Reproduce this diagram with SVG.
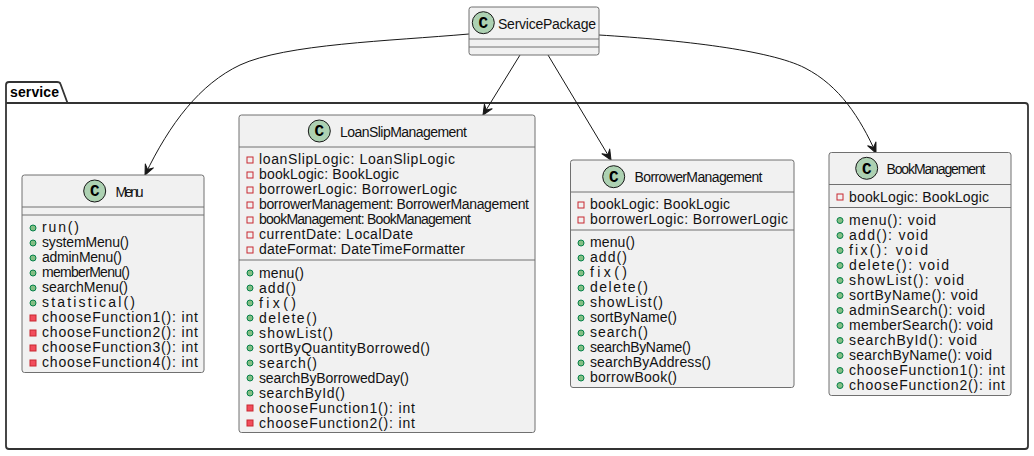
<svg xmlns="http://www.w3.org/2000/svg" width="1034" height="456" viewBox="0 0 1034 456">
<style>
text{font-family:"Liberation Sans",Arial,sans-serif;font-size:14px;fill:#111;}
.b{fill:#F1F1F1;stroke:#707070;stroke-width:1}
.s{stroke:#707070;stroke-width:1;fill:none}
.c{fill:#ADD1B2;stroke:#181818;stroke-width:1}
.g{font-family:"Liberation Mono",monospace;font-weight:bold;font-size:16px;fill:#000;text-anchor:middle}
.e{fill:none;stroke:#181818;stroke-width:1}
.pu{fill:#84BE84;stroke:#038048;stroke-width:1}
.pm{fill:#F24D5C;stroke:#C82930;stroke-width:1}
.pf{fill:#F1F1F1;stroke:#C82930;stroke-width:1}
</style>
<defs>
<marker id="a" markerUnits="userSpaceOnUse" markerWidth="16" markerHeight="14" refX="12" refY="6" orient="auto"><path d="M12,6 L2,1.5 L6,6 L2,10.5 Z" fill="#181818" stroke="#181818" stroke-width="1" stroke-linejoin="round"/></marker>
<circle id="pu" class="pu" r="3"/>
<rect id="pm" class="pm" x="-3" y="-3" width="6" height="6"/>
<rect id="pf" class="pf" x="-3" y="-3" width="6" height="6"/>
</defs>
<g id="package-service">
<path d="M6,103 L6,85 Q6,82 9,82 L57,82 Q60,82 60.5,84 L67.5,103 M6,103 L1025,103 Q1028,103 1028,106 L1028,446 Q1028,449 1025,449 L9,449 Q6,449 6,446 L6,103" fill="#fff" stroke="#333" stroke-width="1.8"/>
<text x="10" y="97" style="font-weight:bold;fill:#000" textLength="49" lengthAdjust="spacing">service</text>
</g>
<g id="connectors">
<path class="e" marker-end="url(#a)" d="M469,34 C390,41 285,44 240,65 C200,84 170,123 145,175"/>
<path class="e" marker-end="url(#a)" d="M520,55 L483,115"/>
<path class="e" marker-end="url(#a)" d="M548,55 L611,160"/>
<path class="e" marker-end="url(#a)" d="M599,35 C680,40 770,50 805,68 C840,86 860,118 876,153"/>
</g>
<g id="ServicePackage">
<rect class="b" x="469" y="7" width="130" height="48" rx="2.5"/>
<circle class="c" cx="483.3" cy="22.7" r="11"/><text class="g" x="483.3" y="28">C</text>
<text x="498" y="28.5" textLength="98" lengthAdjust="spacing">ServicePackage</text>
<path class="s" d="M469,39H599M469,47H599"/>
</g>
<g id="Menu">
<rect class="b" x="22" y="175" width="182" height="197.5" rx="2.5"/>
<circle class="c" cx="94.7" cy="191" r="11"/><text class="g" x="94.7" y="196.3">C</text>
<text x="115.5" y="196.5" textLength="28" lengthAdjust="spacing">Menu</text>
<path class="s" d="M22,207H204M22,215H204"/>
<use href="#pu" x="33" y="228"/><text x="42" y="232" textLength="37" lengthAdjust="spacing">run()</text>
<use href="#pu" x="33" y="243"/><text x="42" y="247" textLength="87" lengthAdjust="spacing">systemMenu()</text>
<use href="#pu" x="33" y="258"/><text x="42" y="262" textLength="80" lengthAdjust="spacing">adminMenu()</text>
<use href="#pu" x="33" y="273"/><text x="42" y="277" textLength="88" lengthAdjust="spacing">memberMenu()</text>
<use href="#pu" x="33" y="288"/><text x="42" y="292" textLength="86" lengthAdjust="spacing">searchMenu()</text>
<use href="#pu" x="33" y="303"/><text x="42" y="307" textLength="93" lengthAdjust="spacing">statistical()</text>
<use href="#pm" x="33" y="318"/><text x="42" y="322" textLength="156" lengthAdjust="spacing">chooseFunction1(): int</text>
<use href="#pm" x="33" y="333"/><text x="42" y="337" textLength="156" lengthAdjust="spacing">chooseFunction2(): int</text>
<use href="#pm" x="33" y="348"/><text x="42" y="352" textLength="156" lengthAdjust="spacing">chooseFunction3(): int</text>
<use href="#pm" x="33" y="363"/><text x="42" y="367" textLength="156" lengthAdjust="spacing">chooseFunction4(): int</text>
</g>
<g id="LoanSlipManagement">
<rect class="b" x="239" y="115" width="296" height="317.5" rx="2.5"/>
<circle class="c" cx="319.3" cy="131" r="11"/><text class="g" x="319.3" y="136.3">C</text>
<text x="340" y="137" textLength="127" lengthAdjust="spacing">LoanSlipManagement</text>
<path class="s" d="M239,147H535M239,260H535"/>
<use href="#pf" x="250" y="160"/><text x="259" y="164" textLength="196" lengthAdjust="spacing">loanSlipLogic: LoanSlipLogic</text>
<use href="#pf" x="250" y="175"/><text x="259" y="179" textLength="140" lengthAdjust="spacing">bookLogic: BookLogic</text>
<use href="#pf" x="250" y="190"/><text x="259" y="194" textLength="198" lengthAdjust="spacing">borrowerLogic: BorrowerLogic</text>
<use href="#pf" x="250" y="205"/><text x="259" y="209" textLength="270" lengthAdjust="spacing">borrowerManagement: BorrowerManagement</text>
<use href="#pf" x="250" y="220"/><text x="259" y="224" textLength="212" lengthAdjust="spacing">bookManagement: BookManagement</text>
<use href="#pf" x="250" y="235"/><text x="259" y="239" textLength="154" lengthAdjust="spacing">currentDate: LocalDate</text>
<use href="#pf" x="250" y="250"/><text x="259" y="254" textLength="206" lengthAdjust="spacing">dateFormat: DateTimeFormatter</text>
<use href="#pu" x="250" y="273"/><text x="259" y="277.5" textLength="45" lengthAdjust="spacing">menu()</text>
<use href="#pu" x="250" y="288"/><text x="259" y="292.5" textLength="37" lengthAdjust="spacing">add()</text>
<use href="#pu" x="250" y="303"/><text x="259" y="307.5" textLength="37" lengthAdjust="spacing">fix()</text>
<use href="#pu" x="250" y="318"/><text x="259" y="322.5" textLength="58" lengthAdjust="spacing">delete()</text>
<use href="#pu" x="250" y="333"/><text x="259" y="337.5" textLength="74" lengthAdjust="spacing">showList()</text>
<use href="#pu" x="250" y="348"/><text x="259" y="352.5" textLength="171" lengthAdjust="spacing">sortByQuantityBorrowed()</text>
<use href="#pu" x="250" y="363"/><text x="259" y="367.5" textLength="58" lengthAdjust="spacing">search()</text>
<use href="#pu" x="250" y="378"/><text x="259" y="382.5" textLength="150" lengthAdjust="spacing">searchByBorrowedDay()</text>
<use href="#pu" x="250" y="393"/><text x="259" y="397.5" textLength="86" lengthAdjust="spacing">searchById()</text>
<use href="#pm" x="250" y="408"/><text x="259" y="412.5" textLength="156" lengthAdjust="spacing">chooseFunction1(): int</text>
<use href="#pm" x="250" y="423"/><text x="259" y="427.5" textLength="156" lengthAdjust="spacing">chooseFunction2(): int</text>
</g>
<g id="BorrowerManagement">
<rect class="b" x="570.5" y="160" width="223.5" height="227.5" rx="2.5"/>
<circle class="c" cx="613.7" cy="176.7" r="11"/><text class="g" x="613.7" y="182">C</text>
<text x="634.5" y="182" textLength="128" lengthAdjust="spacing">BorrowerManagement</text>
<path class="s" d="M570.5,192H794M570.5,230H794"/>
<use href="#pf" x="581" y="205"/><text x="590" y="209" textLength="140" lengthAdjust="spacing">bookLogic: BookLogic</text>
<use href="#pf" x="581" y="220"/><text x="590" y="224" textLength="198" lengthAdjust="spacing">borrowerLogic: BorrowerLogic</text>
<use href="#pu" x="581" y="243"/><text x="590" y="247" textLength="45" lengthAdjust="spacing">menu()</text>
<use href="#pu" x="581" y="258"/><text x="590" y="262" textLength="37" lengthAdjust="spacing">add()</text>
<use href="#pu" x="581" y="273"/><text x="590" y="277" textLength="37" lengthAdjust="spacing">fix()</text>
<use href="#pu" x="581" y="288"/><text x="590" y="292" textLength="58" lengthAdjust="spacing">delete()</text>
<use href="#pu" x="581" y="303"/><text x="590" y="307" textLength="73" lengthAdjust="spacing">showList()</text>
<use href="#pu" x="581" y="318"/><text x="590" y="322" textLength="87" lengthAdjust="spacing">sortByName()</text>
<use href="#pu" x="581" y="333"/><text x="590" y="337" textLength="58" lengthAdjust="spacing">search()</text>
<use href="#pu" x="581" y="348"/><text x="590" y="352" textLength="101" lengthAdjust="spacing">searchByName()</text>
<use href="#pu" x="581" y="363"/><text x="590" y="367" textLength="121" lengthAdjust="spacing">searchByAddress()</text>
<use href="#pu" x="581" y="378"/><text x="590" y="382" textLength="87" lengthAdjust="spacing">borrowBook()</text>
</g>
<g id="BookManagement">
<rect class="b" x="829" y="152.5" width="182" height="243" rx="2.5"/>
<circle class="c" cx="866.7" cy="168.3" r="11"/><text class="g" x="866.7" y="173.6">C</text>
<text x="886.5" y="174" textLength="99" lengthAdjust="spacing">BookManagement</text>
<path class="s" d="M829,184.5H1011M829,207.5H1011"/>
<use href="#pf" x="840" y="197"/><text x="849" y="202" textLength="140" lengthAdjust="spacing">bookLogic: BookLogic</text>
<use href="#pu" x="840" y="220.5"/><text x="849" y="225" textLength="87" lengthAdjust="spacing">menu(): void</text>
<use href="#pu" x="840" y="235.5"/><text x="849" y="240" textLength="79" lengthAdjust="spacing">add(): void</text>
<use href="#pu" x="840" y="250.5"/><text x="849" y="255" textLength="79" lengthAdjust="spacing">fix(): void</text>
<use href="#pu" x="840" y="265.5"/><text x="849" y="270" textLength="100" lengthAdjust="spacing">delete(): void</text>
<use href="#pu" x="840" y="280.5"/><text x="849" y="285" textLength="115" lengthAdjust="spacing">showList(): void</text>
<use href="#pu" x="840" y="295.5"/><text x="849" y="300" textLength="129" lengthAdjust="spacing">sortByName(): void</text>
<use href="#pu" x="840" y="310.5"/><text x="849" y="315" textLength="136" lengthAdjust="spacing">adminSearch(): void</text>
<use href="#pu" x="840" y="325.5"/><text x="849" y="330" textLength="144" lengthAdjust="spacing">memberSearch(): void</text>
<use href="#pu" x="840" y="340.5"/><text x="849" y="345" textLength="128" lengthAdjust="spacing">searchById(): void</text>
<use href="#pu" x="840" y="355.5"/><text x="849" y="360" textLength="143" lengthAdjust="spacing">searchByName(): void</text>
<use href="#pu" x="840" y="370.5"/><text x="849" y="375" textLength="156" lengthAdjust="spacing">chooseFunction1(): int</text>
<use href="#pu" x="840" y="385.5"/><text x="849" y="390" textLength="156" lengthAdjust="spacing">chooseFunction2(): int</text>
</g>
</svg>
